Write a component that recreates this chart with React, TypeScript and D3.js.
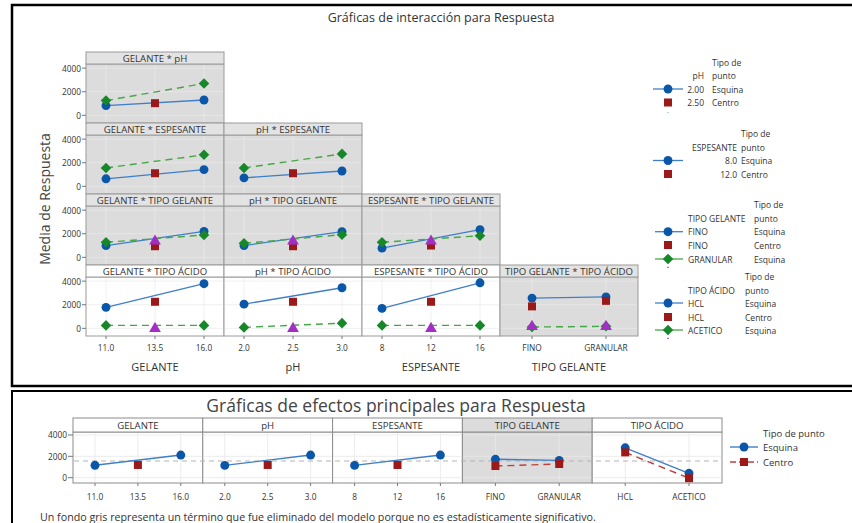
import React, { useEffect, useRef } from "react";
import * as d3 from "d3";

// factor levels
const gelanteLevels = ["11.0", "13.5", "16.0"];
const phLevels = ["2.0", "2.5", "3.0"];
const espesanteLevels = ["8", "12", "16"];
const tipoGelanteLevels = ["FINO", "GRANULAR"];
const tipoAcidoLevels = ["HCL", "ACETICO"];
const yTicks = [0, 2000, 4000];

// interaccion: blue = nivel bajo / 1er nivel esquina, green = nivel alto / 2o nivel esquina,
// red = centro (1er nivel), purple = centro (2o nivel)
const gelPhLow = [830, 1300];
const gelPhHigh = [1250, 2700];
const gelPhCenter = [1030];

const gelEspLow = [640, 1420];
const gelEspHigh = [1560, 2670];
const gelEspCenter = [1110];
const phEspLow = [720, 1300];
const phEspHigh = [1560, 2750];
const phEspCenter = [1110];

const gelTgFino = [1000, 2200];
const gelTgGranular = [1280, 1890];
const gelTgFinoC = [940];
const gelTgGranularC = [1280];
const phTgFino = [1000, 2170];
const phTgGranular = [1190, 1920];
const phTgFinoC = [940];
const phTgGranularC = [1280];
const espTgFino = [780, 2350];
const espTgGranular = [1280, 1830];
const espTgFinoC = [1000];
const espTgGranularC = [1280];

const gelTaHcl = [1780, 3780];
const gelTaAcetico = [250, 250];
const gelTaHclC = [2250];
const gelTaAceticoC = [-100];
const phTaHcl = [2050, 3440];
const phTaAcetico = [80, 440];
const phTaHclC = [2250];
const phTaAceticoC = [-100];
const espTaHcl = [1690, 3860];
const espTaAcetico = [250, 250];
const espTaHclC = [2250];
const espTaAceticoC = [-100];
const tgTaHcl = [2560, 2670];
const tgTaAcetico = [110, 170];
const tgTaHclC = [1860, 2330];
const tgTaAceticoC = [60, 60];

// efectos principales
const meGelEsq = [1160, 2120];
const meGelCen = [1190];
const mePhEsq = [1150, 2120];
const mePhCen = [1190];
const meEspEsq = [1150, 2120];
const meEspCen = [1190];
const meTgEsq = [1720, 1620];
const meTgCen = [1090, 1280];
const meTaEsq = [2800, 410];
const meTaCen = [2370, -50];
const overallMean = 1560;

const BLUE = "#0a56a8";
const BLUE_LINE = "#3f7fc9";
const RED = "#9b1919";
const RED_LINE = "#bf4040";
const GREEN = "#17882a";
const GREEN_LINE = "#45a845";
const PURPLE = "#a22fc4";
const TXT = "#333";

const colFactors = [
  { name: "GELANTE", levels: gelanteLevels },
  { name: "pH", levels: phLevels },
  { name: "ESPESANTE", levels: espesanteLevels },
  { name: "TIPO GELANTE", levels: tipoGelanteLevels },
];
const rowFactors = ["pH", "ESPESANTE", "TIPO GELANTE", "TIPO ÁCIDO"];

// [row][col] -> blue, green, red, purple
const interaction = [
  [{ blue: gelPhLow, green: gelPhHigh, red: gelPhCenter, purple: [] }],
  [
    { blue: gelEspLow, green: gelEspHigh, red: gelEspCenter, purple: [] },
    { blue: phEspLow, green: phEspHigh, red: phEspCenter, purple: [] },
  ],
  [
    { blue: gelTgFino, green: gelTgGranular, red: gelTgFinoC, purple: gelTgGranularC },
    { blue: phTgFino, green: phTgGranular, red: phTgFinoC, purple: phTgGranularC },
    { blue: espTgFino, green: espTgGranular, red: espTgFinoC, purple: espTgGranularC },
  ],
  [
    { blue: gelTaHcl, green: gelTaAcetico, red: gelTaHclC, purple: gelTaAceticoC },
    { blue: phTaHcl, green: phTaAcetico, red: phTaHclC, purple: phTaAceticoC },
    { blue: espTaHcl, green: espTaAcetico, red: espTaHclC, purple: espTaAceticoC },
    { blue: tgTaHcl, green: tgTaAcetico, red: tgTaHclC, purple: tgTaAceticoC },
  ],
];

const mainEffects = [
  { name: "GELANTE", levels: gelanteLevels, esq: meGelEsq, cen: meGelCen, gray: false },
  { name: "pH", levels: phLevels, esq: mePhEsq, cen: mePhCen, gray: false },
  { name: "ESPESANTE", levels: espesanteLevels, esq: meEspEsq, cen: meEspCen, gray: false },
  { name: "TIPO GELANTE", levels: tipoGelanteLevels, esq: meTgEsq, cen: meTgCen, gray: true },
  { name: "TIPO ÁCIDO", levels: tipoAcidoLevels, esq: meTaEsq, cen: meTaCen, gray: false },
];

const symbolFor: any = {
  circle: d3.symbol().type(d3.symbolCircle).size(62),
  square: d3.symbol().type(d3.symbolSquare).size(64),
  diamond: d3.symbol().type(d3.symbolSquare).size(56),
  triangle: d3.symbol().type(d3.symbolTriangle).size(60),
};

function corners(levels: string[]) {
  return levels.length === 3 ? [levels[0], levels[2]] : levels;
}
function centers(levels: string[]) {
  return levels.length === 3 ? [levels[1]] : levels;
}

export default function App() {
  const ref = useRef<SVGSVGElement>(null);

  useEffect(() => {
    const svg = d3.select(ref.current);
    svg.selectAll("*").remove();
    svg.attr("font-family", "'Open Sans', 'Noto Sans', sans-serif");

    const marker = (g: any, kind: string, x: number, y: number, fill: string) => {
      g.append("path")
        .attr("d", symbolFor[kind]())
        .attr("fill", fill)
        .attr("transform", `translate(${x},${y})` + (kind === "diamond" ? " rotate(45)" : ""));
    };
    const text = (g: any, x: number, y: number, s: string, size: number, anchor = "start", fill = TXT) =>
      g.append("text")
        .attr("x", x)
        .attr("y", y)
        .attr("font-size", size)
        .attr("text-anchor", anchor)
        .attr("dominant-baseline", "central")
        .attr("fill", fill)
        .text(s);

    // frames
    svg.append("rect").attr("x", 12).attr("y", 5).attr("width", 850).attr("height", 381)
      .attr("fill", "none").attr("stroke", "#000").attr("stroke-width", 2.5);
    svg.append("rect").attr("x", 12).attr("y", 391).attr("width", 850).attr("height", 150)
      .attr("fill", "none").attr("stroke", "#000").attr("stroke-width", 2);

    text(svg, 441, 17, "Gráficas de interacción para Respuesta", 12.5, "middle", "#333");

    // ---------- interaction grid ----------
    const gx0 = 86, colW = 138, rowTop0 = 52, rowH = 71, stripH = 12;
    const yDomain = [-650, 4350];

    interaction.forEach((row, r) => {
      const top = rowTop0 + r * rowH;
      const plotTop = top + stripH;
      const bottom = top + rowH;
      const y = d3.scaleLinear().domain(yDomain).range([bottom, plotTop]);

      row.forEach((cell, c) => {
        const x0 = gx0 + c * colW;
        const f = colFactors[c];
        const pad = f.levels.length === 3 ? 20 : 32;
        const x = d3.scalePoint().domain(f.levels).range([x0 + pad, x0 + colW - pad]);
        const gray = !(r === 3 && c < 3);
        const g = svg.append("g");

        g.append("rect").attr("x", x0).attr("y", plotTop).attr("width", colW).attr("height", bottom - plotTop)
          .attr("fill", gray ? "#dcdcdc" : "#fff").attr("stroke", "#9a9a9a").attr("stroke-width", 1);
        // gridlines
        const gridC = gray ? "#e9e9e9" : "#ececec";
        f.levels.forEach((lv) => {
          g.append("line").attr("x1", x(lv)).attr("x2", x(lv)).attr("y1", plotTop + 1).attr("y2", bottom - 1)
            .attr("stroke", gridC).attr("stroke-width", 0.8);
        });
        yTicks.forEach((t) => {
          g.append("line").attr("x1", x0 + 1).attr("x2", x0 + colW - 1).attr("y1", y(t)).attr("y2", y(t))
            .attr("stroke", gridC).attr("stroke-width", 0.8);
        });
        // strip
        g.append("rect").attr("x", x0).attr("y", top).attr("width", colW).attr("height", stripH)
          .attr("fill", gray ? "#e3e3e3" : "#fff").attr("stroke", "#9a9a9a").attr("stroke-width", 1);
        text(g, x0 + colW / 2, top + stripH / 2 + 0.5, `${f.name} * ${rowFactors[r]}`, 9.6, "middle");

        const cx = corners(f.levels);
        const ce = centers(f.levels);
        const line = d3.line<any>().x((d) => x(d[0])!).y((d) => y(d[1]));
        g.append("path").attr("d", line(cx.map((l, i) => [l, cell.blue[i]])))
          .attr("fill", "none").attr("stroke", BLUE_LINE).attr("stroke-width", 1.3);
        g.append("path").attr("d", line(cx.map((l, i) => [l, cell.green[i]])))
          .attr("fill", "none").attr("stroke", GREEN_LINE).attr("stroke-width", 1.4).attr("stroke-dasharray", "7,5");
        cx.forEach((l, i) => marker(g, "circle", x(l)!, y(cell.blue[i]), BLUE));
        cx.forEach((l, i) => marker(g, "diamond", x(l)!, y(cell.green[i]), GREEN));
        cell.red.forEach((v, i) => marker(g, "square", x(ce[i])!, y(v), RED));
        cell.purple.forEach((v, i) => marker(g, "triangle", x(ce[i])!, y(v) - 1, PURPLE));

        // x axis for the bottom row
        if (r === 3) {
          f.levels.forEach((lv) => {
            g.append("line").attr("x1", x(lv)).attr("x2", x(lv)).attr("y1", bottom).attr("y2", bottom + 3)
              .attr("stroke", "#777");
            text(g, x(lv)!, bottom + 11, lv, 8.3, "middle");
          });
          text(g, x0 + colW / 2, 366, f.name, 11, "middle");
        }
      });

      // y axis
      yTicks.forEach((t) => {
        svg.append("line").attr("x1", gx0 - 4).attr("x2", gx0).attr("y1", y(t)).attr("y2", y(t)).attr("stroke", "#777");
        text(svg, gx0 - 5, y(t), String(t), 8.3, "end");
      });
    });

    svg.append("text").attr("transform", "translate(50,199) rotate(-90)")
      .attr("text-anchor", "middle").attr("font-size", 14).attr("fill", "#444").text("Media de Respuesta");

    // ---------- interaction legends ----------
    const legendRowLine = (g: any, y: number, x1: number, x2: number, color: string) =>
      g.append("line").attr("x1", x1).attr("x2", x2).attr("y1", y).attr("y2", y).attr("stroke", color)
        .attr("stroke-width", 1.3);
    const defs = svg.append("defs");
    const clip = (id: string, yMax: number) => {
      defs.append("clipPath").attr("id", id).append("rect").attr("x", 600).attr("y", 0).attr("width", 252).attr("height", yMax);
      return svg.append("g").attr("clip-path", `url(#${id})`);
    };
    const mx = 668;

    // legend pH
    {
      const g = clip("lg1", 113);
      text(g, 712, 62, "Tipo de", 8.5);
      text(g, 704, 75.5, "pH", 8.5, "end");
      text(g, 712, 75.5, "punto", 8.5);
      legendRowLine(g, 89, 653, 683, BLUE_LINE);
      marker(g, "circle", mx, 89, BLUE);
      text(g, 704, 89, "2.00", 8.5, "end");
      text(g, 712, 89, "Esquina", 8.5);
      marker(g, "square", mx, 102.5, RED);
      text(g, 704, 102.5, "2.50", 8.5, "end");
      text(g, 712, 102.5, "Centro", 8.5);
      marker(g, "diamond", mx, 117.5, GREEN);
    }
    // legend ESPESANTE
    {
      const g = clip("lg2", 183);
      text(g, 741, 133, "Tipo de", 8.5);
      text(g, 737, 147, "ESPESANTE", 8.5, "end");
      text(g, 741, 147, "punto", 8.5);
      legendRowLine(g, 160.5, 653, 683, BLUE_LINE);
      marker(g, "circle", mx, 160.5, BLUE);
      text(g, 737, 160.5, "8.0", 8.5, "end");
      text(g, 741, 160.5, "Esquina", 8.5);
      marker(g, "square", mx, 174, RED);
      text(g, 737, 174, "12.0", 8.5, "end");
      text(g, 741, 174, "Centro", 8.5);
      marker(g, "diamond", mx, 188.5, GREEN);
    }
    // legend TIPO GELANTE
    {
      const g = clip("lg3", 268);
      text(g, 754, 204, "Tipo de", 8.5);
      text(g, 688, 218, "TIPO GELANTE", 8.5);
      text(g, 754, 218, "punto", 8.5);
      legendRowLine(g, 231.7, 655, 683, BLUE_LINE);
      marker(g, "circle", mx, 231.7, BLUE);
      text(g, 688, 231.7, "FINO", 8.5);
      text(g, 754, 231.7, "Esquina", 8.5);
      marker(g, "square", mx, 245, RED);
      text(g, 688, 245, "FINO", 8.5);
      text(g, 754, 245, "Centro", 8.5);
      legendRowLine(g, 259, 655, 683, GREEN_LINE);
      marker(g, "diamond", mx, 259, GREEN);
      text(g, 688, 259, "GRANULAR", 8.5);
      text(g, 754, 259, "Esquina", 8.5);
      marker(g, "triangle", mx, 273, PURPLE);
      text(g, 688, 272.5, "GRANULAR", 8.5);
    }
    // legend TIPO ÁCIDO
    {
      const g = clip("lg4", 339);
      text(g, 745, 276, "Tipo de", 8.5);
      text(g, 688, 290, "TIPO ÁCIDO", 8.5);
      text(g, 745, 290, "punto", 8.5);
      legendRowLine(g, 303, 655, 683, BLUE_LINE);
      marker(g, "circle", mx, 303, BLUE);
      text(g, 688, 303, "HCL", 8.5);
      text(g, 745, 303, "Esquina", 8.5);
      marker(g, "square", mx, 317, RED);
      text(g, 688, 317, "HCL", 8.5);
      text(g, 745, 317, "Centro", 8.5);
      legendRowLine(g, 330, 655, 683, GREEN_LINE);
      marker(g, "diamond", mx, 330, GREEN);
      text(g, 688, 330, "ACETICO", 8.5);
      text(g, 745, 330, "Esquina", 8.5);
      marker(g, "triangle", mx, 344, PURPLE);
      text(g, 688, 344, "ACETICO", 8.5);
      text(g, 745, 344, "Centro", 8.5);
    }

    // ---------- main effects ----------
    text(svg, 396, 405, "Gráficas de efectos principales para Respuesta", 17.5, "middle", "#444");
    const mx0 = 73, mW = 129.8, mStripTop = 418, mStripH = 14, mBottom = 483;
    const my = d3.scaleLinear().domain([-500, 4280]).range([mBottom, mStripTop + mStripH]);
    mainEffects.forEach((p, i) => {
      const x0 = mx0 + i * mW;
      const pad = p.levels.length === 3 ? 22 : 33;
      const x = d3.scalePoint().domain(p.levels).range([x0 + pad, x0 + mW - pad]);
      const g = svg.append("g");
      g.append("rect").attr("x", x0).attr("y", mStripTop + mStripH).attr("width", mW).attr("height", mBottom - mStripTop - mStripH)
        .attr("fill", p.gray ? "#dcdcdc" : "#fff").attr("stroke", "#8c8c8c");
      const gridC = p.gray ? "#e6e6e6" : "#ececec";
      p.levels.forEach((lv) => {
        g.append("line").attr("x1", x(lv)).attr("x2", x(lv)).attr("y1", mStripTop + mStripH + 1).attr("y2", mBottom - 1)
          .attr("stroke", gridC);
      });
      yTicks.forEach((t) => {
        g.append("line").attr("x1", x0 + 1).attr("x2", x0 + mW - 1).attr("y1", my(t)).attr("y2", my(t)).attr("stroke", gridC);
      });
      g.append("rect").attr("x", x0).attr("y", mStripTop).attr("width", mW).attr("height", mStripH)
        .attr("fill", p.gray ? "#dcdcdc" : "#fff").attr("stroke", "#8c8c8c");
      text(g, x0 + mW / 2, mStripTop + mStripH / 2 + 0.5, p.name, 9.6, "middle");
      p.levels.forEach((lv) => {
        g.append("line").attr("x1", x(lv)).attr("x2", x(lv)).attr("y1", mBottom).attr("y2", mBottom + 3).attr("stroke", "#777");
        text(g, x(lv)!, mBottom + 13, lv, 8.3, "middle");
      });
    });
    // mean reference line
    svg.append("line").attr("x1", mx0 + 1).attr("x2", mx0 + 5 * mW - 1).attr("y1", my(overallMean)).attr("y2", my(overallMean))
      .attr("stroke", "#b4b4b4").attr("stroke-width", 1.2).attr("stroke-dasharray", "5,4");
    mainEffects.forEach((p, i) => {
      const x0 = mx0 + i * mW;
      const pad = p.levels.length === 3 ? 22 : 33;
      const x = d3.scalePoint().domain(p.levels).range([x0 + pad, x0 + mW - pad]);
      const g = svg.append("g");
      const cx = corners(p.levels);
      const ce = centers(p.levels);
      const line = d3.line<any>().x((d) => x(d[0])!).y((d) => my(d[1]));
      g.append("path").attr("d", line(cx.map((l, k) => [l, p.esq[k]])))
        .attr("fill", "none").attr("stroke", BLUE_LINE).attr("stroke-width", 1.4);
      if (p.cen.length > 1) {
        g.append("path").attr("d", line(ce.map((l, k) => [l, p.cen[k]])))
          .attr("fill", "none").attr("stroke", RED_LINE).attr("stroke-width", 1.4).attr("stroke-dasharray", "7,5");
      }
      cx.forEach((l, k) => marker(g, "circle", x(l)!, my(p.esq[k]), BLUE));
      p.cen.forEach((v, k) => marker(g, "square", x(ce[k])!, my(v), RED));
    });
    yTicks.forEach((t) => {
      svg.append("line").attr("x1", mx0 - 5).attr("x2", mx0).attr("y1", my(t)).attr("y2", my(t)).attr("stroke", "#777");
      text(svg, mx0 - 6, my(t), String(t), 8.3, "end");
    });

    // main effects legend
    text(svg, 763, 433, "Tipo de punto", 9.5);
    svg.append("line").attr("x1", 730).attr("x2", 758).attr("y1", 447).attr("y2", 447).attr("stroke", BLUE_LINE).attr("stroke-width", 1.4);
    marker(svg, "circle", 744, 447, BLUE);
    text(svg, 763, 447, "Esquina", 9.5);
    svg.append("line").attr("x1", 730).attr("x2", 758).attr("y1", 462).attr("y2", 462).attr("stroke", RED_LINE)
      .attr("stroke-width", 1.4).attr("stroke-dasharray", "6,3");
    marker(svg, "square", 744, 462, RED);
    text(svg, 763, 462, "Centro", 9.5);

    text(svg, 40, 517, "Un fondo gris representa un término que fue eliminado del modelo porque no es estadísticamente significativo.", 10.7, "start", "#333");
  }, []);

  return (
    <svg
      ref={ref}
      width={852}
      height={523}
      style={{ position: "absolute", left: 0, top: 0, background: "#fff" }}
    />
  );
}
